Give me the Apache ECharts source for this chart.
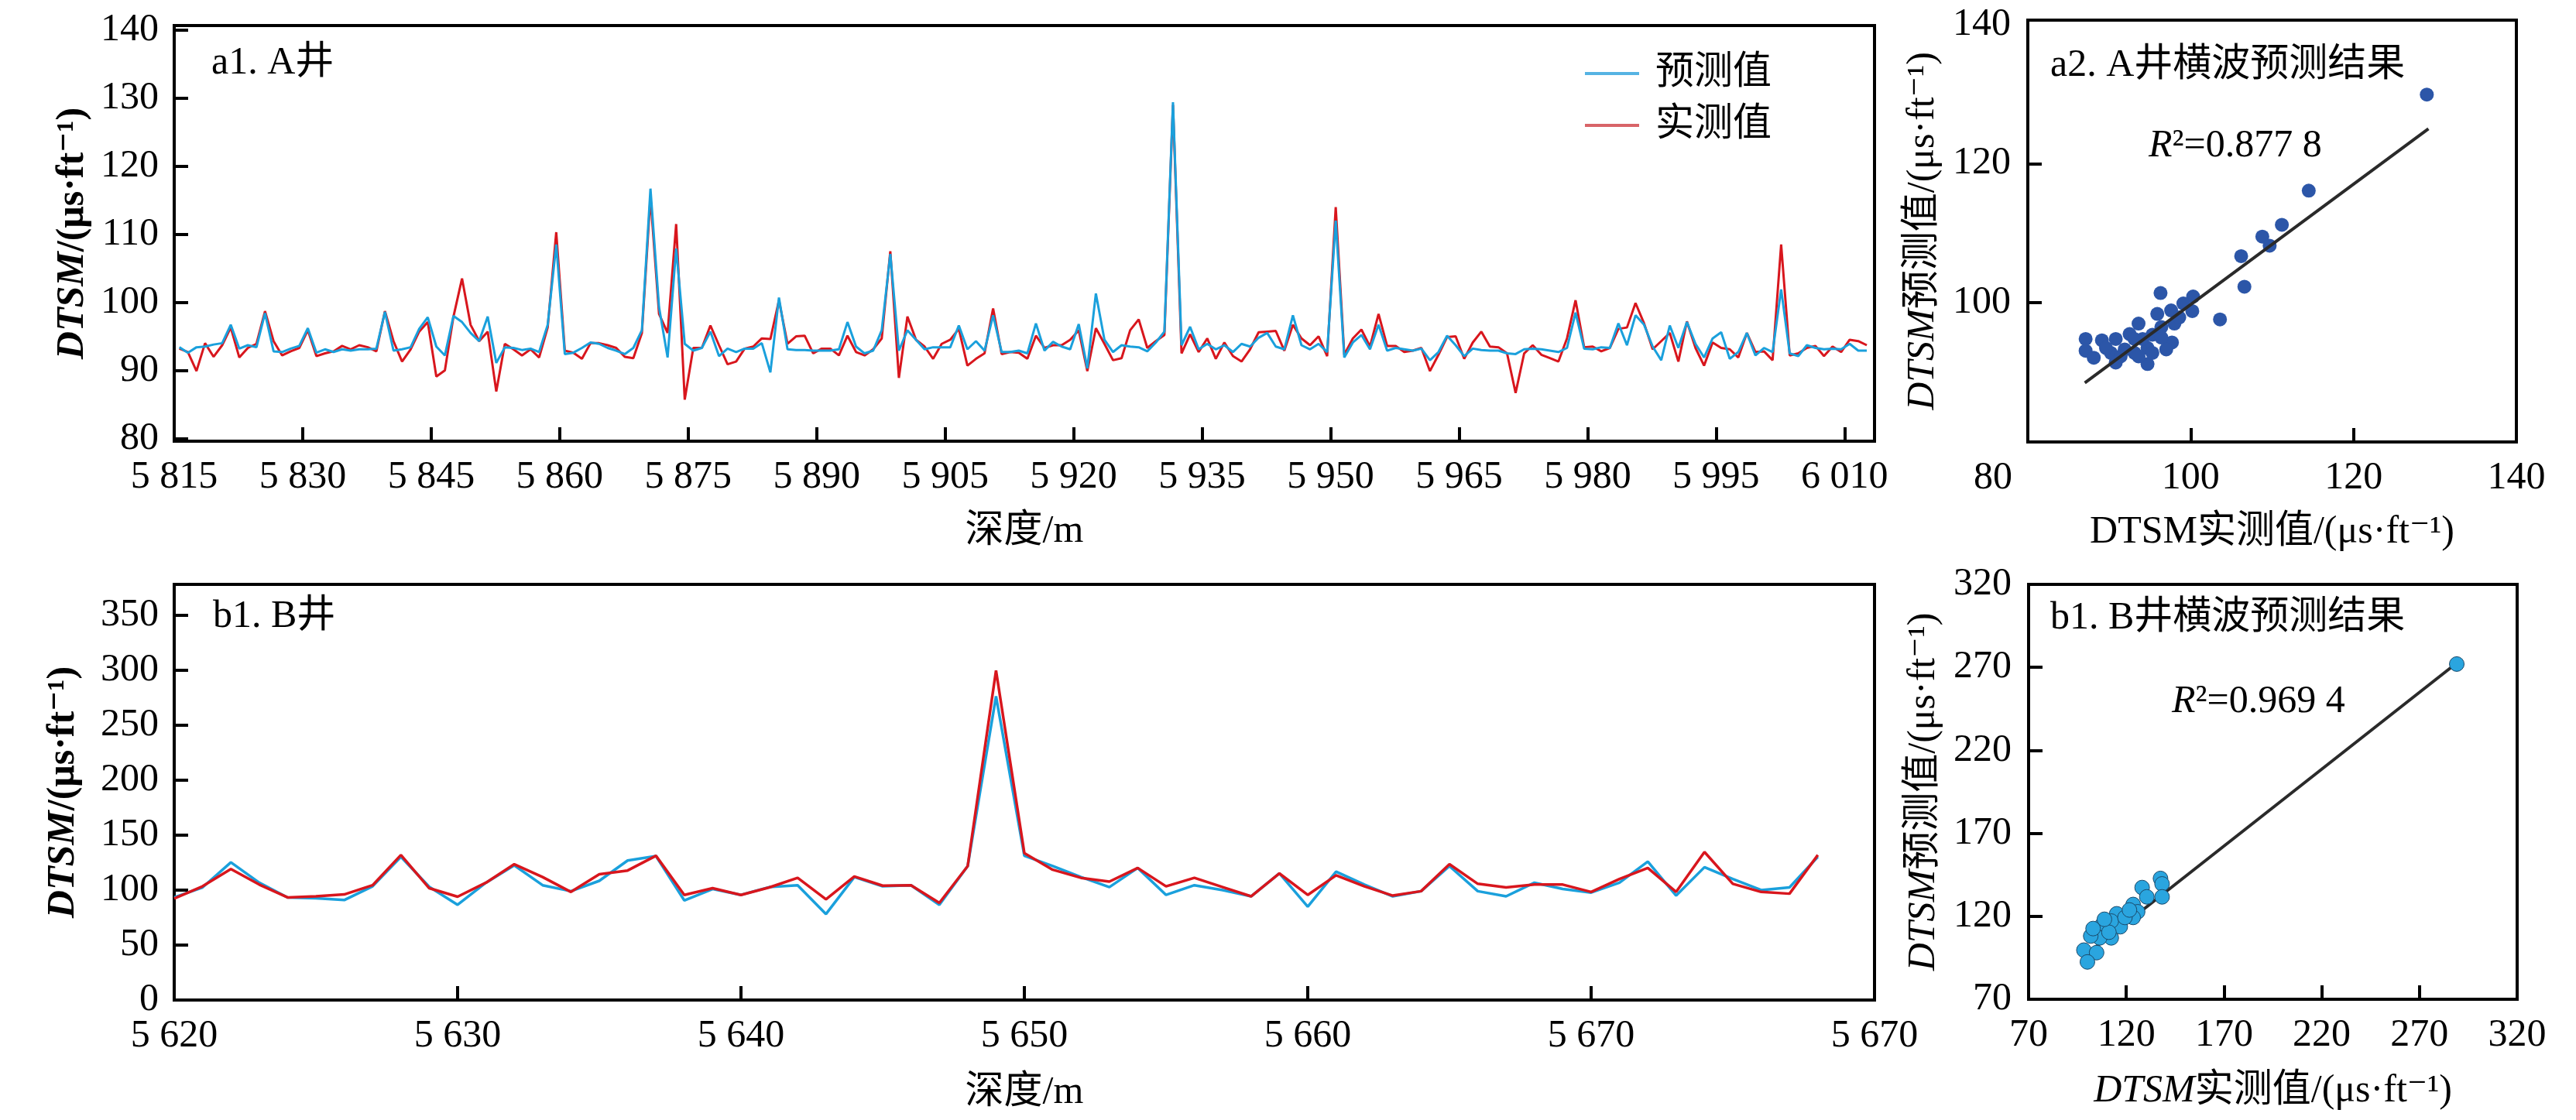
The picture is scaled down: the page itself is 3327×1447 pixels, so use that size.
<!DOCTYPE html>
<html>
<head>
<meta charset="utf-8">
<title>DTSM 横波预测结果</title>
<script src="https://cdn.jsdelivr.net/npm/echarts@6/dist/echarts.min.js"></script>
<style>
  html, body { margin: 0; padding: 0; background: #fff; }
  #chart { width: 3327px; height: 1447px; }
</style>
</head>
<body>
<div id="chart"></div>
<script>
// ---- A井: depth sampled every 1 m from 5815.6 m ----
var A_DEPTH_START = 5815.6;
var A_DEPTH_STEP = 1;
var A_PRED = [
  93.4, 92.6, 93.4, 93.5, 93.8, 94.0, 96.7, 93.2, 93.7, 93.4,
  98.4, 92.8, 92.7, 93.2, 93.6, 96.2, 92.6, 93.1, 92.7, 93.1,
  92.9, 93.1, 93.1, 93.2, 98.6, 92.9, 93.1, 93.4, 96.1, 97.8,
  93.5, 92.2, 98.0, 97.1, 95.5, 94.3, 97.9, 91.1, 93.4, 93.3,
  93.0, 93.2, 92.7, 96.7, 108.5, 92.4, 92.6, 93.3, 94.1, 93.9,
  93.3, 92.9, 92.4, 93.3, 95.9, 116.7, 99.3, 91.9, 107.9, 93.9,
  92.9, 93.3, 95.7, 92.1, 93.2, 92.7, 93.2, 93.2, 94.0, 89.7,
  100.7, 93.1, 93.0, 93.0, 92.9, 92.9, 92.9, 93.1, 97.1, 93.5,
  92.5, 92.9, 95.9, 107.1, 92.9, 95.9, 94.5, 93.1, 93.4, 93.4,
  93.4, 96.6, 93.1, 94.3, 92.9, 98.1, 92.7, 92.7, 92.9, 92.5,
  96.9, 92.9, 94.2, 93.5, 93.1, 96.8, 90.3, 101.3, 94.5, 92.7,
  93.7, 93.5, 93.4, 92.8, 94.1, 95.7, 129.4, 93.7, 96.4, 93.1,
  93.9, 93.1, 93.7, 92.7, 93.9, 93.5, 94.8, 95.5, 93.5, 93.1,
  98.1, 93.7, 93.1, 93.9, 92.7, 112.0, 91.9, 94.1, 95.2, 93.1,
  96.7, 92.9, 93.3, 93.1, 92.9, 93.2, 91.5, 92.7, 95.1, 93.7,
  92.1, 93.2, 93.0, 92.9, 92.9, 92.5, 92.4, 93.1, 93.2, 93.1,
  92.9, 92.7, 93.3, 98.5, 93.2, 93.1, 93.4, 93.3, 96.9, 93.7,
  98.1, 96.7, 93.5, 91.5, 96.6, 93.3, 97.1, 93.9, 91.9, 94.7,
  95.6, 91.7, 92.7, 95.5, 92.2, 93.3, 92.7, 101.9, 92.5, 92.1,
  93.7, 93.3, 93.1, 93.2, 93.1, 93.9, 92.9, 92.9
];
var A_MEAS = [
  93.2, 92.7, 89.9, 94.0, 92.0, 93.7, 96.3, 91.9, 93.3, 93.9,
  98.7, 94.3, 92.2, 92.8, 93.3, 95.9, 92.1, 92.5, 92.8, 93.6,
  93.1, 93.7, 93.4, 92.8, 98.7, 94.3, 91.3, 93.1, 95.7, 97.1,
  89.1, 90.0, 97.9, 103.5, 96.7, 94.3, 95.7, 86.9, 93.9, 93.1,
  92.2, 93.1, 91.9, 96.3, 110.3, 92.9, 92.6, 91.7, 94.0, 94.0,
  93.7, 93.3, 92.0, 91.8, 95.5, 115.5, 98.3, 95.5, 111.5, 85.7,
  93.3, 93.3, 96.6, 93.7, 90.9, 91.3, 93.2, 93.5, 94.7, 94.6,
  100.3, 93.9, 95.0, 95.1, 92.5, 93.2, 93.2, 92.2, 95.1, 92.7,
  92.2, 93.1, 94.7, 107.5, 88.9, 97.9, 94.5, 93.5, 91.7, 93.9,
  94.5, 96.1, 90.7, 91.7, 92.5, 99.1, 92.4, 92.7, 92.6, 91.7,
  95.1, 93.3, 93.7, 93.7, 94.5, 95.9, 89.9, 96.2, 93.9, 91.5,
  91.8, 95.9, 97.5, 93.3, 94.3, 95.2, 129.0, 92.5, 95.3, 92.7,
  94.7, 91.7, 94.1, 92.1, 91.3, 93.1, 95.6, 95.7, 95.8, 92.9,
  96.7, 94.7, 93.7, 95.0, 92.1, 114.0, 92.3, 94.7, 96.0, 93.5,
  98.3, 93.6, 93.6, 92.7, 92.9, 93.3, 89.9, 92.3, 94.9, 95.0,
  91.7, 94.1, 95.7, 93.5, 93.4, 92.5, 86.7, 92.5, 93.7, 92.3,
  91.8, 91.3, 94.7, 100.3, 93.4, 93.5, 92.8, 93.3, 96.1, 96.3,
  99.9, 96.9, 93.1, 94.3, 95.5, 91.3, 97.2, 93.3, 90.7, 94.1,
  93.3, 93.1, 91.9, 95.5, 92.7, 92.8, 91.5, 108.5, 92.2, 92.5,
  93.3, 93.6, 92.1, 93.5, 92.7, 94.5, 94.3, 93.7
];

// ---- B井: depth every 1 m from 5620 m ----
var B_DEPTH_START = 5620;
var B_DEPTH_STEP = 1;
var B_PRED = [
  93.3, 102.4, 125.2, 106.7, 93.3, 92.6, 90.9, 103.4, 130.2, 103.0,
  86.6, 106.7, 122.5, 104.4, 99.0, 108.4, 126.9, 130.9, 90.6, 101.0,
  95.6, 102.7, 104.4, 78.2, 111.8, 103.4, 104.4, 86.6, 121.8, 276.2,
  131.2, 121.8, 111.8, 102.7, 120.1, 95.6, 104.4, 100.0, 94.3, 115.1,
  84.9, 116.8, 105.0, 94.3, 99.0, 121.8, 99.0, 94.3, 106.7, 101.0,
  97.7, 106.7, 125.9, 95.0, 120.8, 110.1, 100.0, 102.4, 130.2
];
var B_MEAS = [
  92.3, 103.4, 119.1, 105.0, 93.3, 94.3, 96.0, 104.4, 131.9, 101.7,
  94.0, 106.7, 123.5, 111.8, 98.3, 114.4, 117.8, 131.2, 95.6, 101.7,
  95.6, 102.4, 111.1, 91.6, 112.4, 104.0, 104.4, 88.3, 121.8, 299.7,
  133.6, 118.5, 111.1, 107.7, 120.1, 103.4, 111.1, 102.7, 94.3, 115.1,
  95.6, 113.4, 103.4, 95.0, 99.0, 123.5, 105.7, 102.4, 105.0, 105.0,
  98.3, 110.1, 120.1, 98.3, 134.6, 105.7, 98.3, 96.7, 131.9
];

// ---- crossplots: [measured, predicted] ----
var A_SCATTER = [
  [129.0, 129.9], [114.5, 116.1], [111.2, 111.2], [108.8, 109.5], [109.7, 108.2],
  [106.2, 106.7], [106.6, 102.3], [103.6, 97.6], [96.3, 101.4], [100.3, 100.9],
  [99.1, 99.9], [100.2, 98.8], [97.6, 98.9], [95.9, 98.4], [98.0, 97.0],
  [93.6, 97.0], [95.3, 95.4], [97.7, 94.3], [94.7, 93.5], [93.1, 92.8],
  [90.8, 94.8], [89.1, 94.6], [87.1, 94.8], [87.1, 93.1], [88.1, 92.1],
  [90.8, 91.4], [94.7, 91.2], [90.2, 92.8], [91.9, 93.3], [94.1, 94.8],
  [96.4, 95.0], [95.3, 92.8], [93.6, 92.3], [92.5, 95.5], [96.4, 96.5],
  [98.6, 97.9], [91.4, 92.3], [89.6, 93.5], [93.1, 94.8], [97.0, 93.3]
];
var A_FIT = [[87.0, 88.5], [129.2, 125.0]];
var A_R2 = '0.877 8';

var B_SCATTER = [
  [289.1, 272.0], [137.5, 142.8], [138.3, 139.5], [138.3, 131.7], [128.1, 137.3],
  [130.5, 131.7], [123.5, 127.1], [125.8, 122.7], [123.5, 119.3], [115.1, 121.5],
  [116.9, 113.7], [112.3, 117.1], [107.6, 114.8], [112.3, 107.0], [106.4, 107.0],
  [101.8, 108.1], [98.3, 99.6], [104.8, 98.1], [100.1, 92.5], [111.1, 110.4],
  [119.3, 119.3], [108.8, 118.2], [103.0, 112.6], [121.6, 123.8]
];
var B_FIT = [[100.5, 98.0], [288.0, 271.6]];
var B_R2 = '0.969 4';

// ---- axis ticks and labels ----
var A1_X_TICKS = [5815, 5830, 5845, 5860, 5875, 5890, 5905, 5920, 5935, 5950, 5965, 5980, 5995, 6010];
var A1_X_LABELS = ['5 815', '5 830', '5 845', '5 860', '5 875', '5 890', '5 905', '5 920', '5 935', '5 950', '5 965', '5 980', '5 995', '6 010'];
var A1_Y_TICKS = [80, 90, 100, 110, 120, 130, 140];
var B1_X_TICKS = [5620, 5630, 5640, 5650, 5660, 5670, 5680];
var B1_X_LABELS = ['5 620', '5 630', '5 640', '5 650', '5 660', '5 670', '5 670'];
var B1_Y_TICKS = [0, 50, 100, 150, 200, 250, 300, 350];
var A2_TICKS = [100, 120];
var A2_X_LABELS = [80, 100, 120, 140];
var A2_Y_LABELS = [100, 120, 140];
var B2_TICKS = [120, 170, 220, 270];
var B2_LABELS = [70, 120, 170, 220, 270, 320];

var SERIF = "'Liberation Serif', 'DejaVu Serif', 'Noto Sans CJK SC', serif";
var BLUE = '#1aa0dc';
var RED = '#d8161d';

function series(start, step, vals) {
  return vals.map(function (v, i) { return [start + i * step, v]; });
}

function labelFrom(ticks, labels) {
  return function (v) {
    var i = ticks.indexOf(v);
    return i >= 0 ? labels[i] : '';
  };
}

function axis(o) {
  return {
    type: 'value',
    gridIndex: o.grid,
    min: o.min,
    max: o.max,
    axisLine: { show: true, onZero: false, lineStyle: { color: '#000', width: 4 } },
    axisTick: { show: true, inside: true, length: 18, customValues: o.ticks, lineStyle: { color: '#000', width: 4 } },
    axisLabel: {
      customValues: o.labels,
      margin: o.margin,
      formatter: o.fmt,
      fontSize: 50,
      fontFamily: SERIF,
      color: '#000',
      rich: o.rich
    },
    splitLine: { show: false },
    name: o.name,
    nameLocation: 'middle',
    nameGap: o.nameGap,
    nameTextStyle: o.nameStyle
  };
}

function nameStyle(bold, size) {
  var w = bold ? 'bold' : 'normal';
  return {
    fontSize: size, fontFamily: SERIF, color: '#000', fontWeight: w,
    rich: {
      i: { fontSize: size, fontFamily: SERIF, color: '#000', fontWeight: w, fontStyle: 'italic' },
      n: { fontSize: size, fontFamily: SERIF, color: '#000', fontWeight: w }
    }
  };
}

var labelStyle = { fontSize: 50, fontFamily: SERIF, color: '#000', fontWeight: 'normal' };
var r2Style = {
  fontSize: 50, fontFamily: SERIF, color: '#000', fontWeight: 'normal',
  rich: { i: { fontSize: 50, fontFamily: SERIF, color: '#000', fontStyle: 'italic' } }
};

var chart = echarts.init(document.getElementById('chart'), null, { renderer: 'canvas' });

var option = {
  animation: false,
  backgroundColor: '#fff',
  title: [
    { text: 'a1. A井', left: 273, top: 57, padding: 0, textStyle: labelStyle },
    { text: 'b1. B井', left: 275, top: 772, padding: 0, textStyle: labelStyle },
    { text: 'a2. A井横波预测结果', left: 2648, top: 60, padding: 0, textStyle: labelStyle },
    { text: 'b1. B井横波预测结果', left: 2648, top: 774, padding: 0, textStyle: labelStyle },
    { text: '{i|R}²=' + A_R2, left: 2775, top: 164, padding: 0, textStyle: r2Style },
    { text: '{i|R}²=' + B_R2, left: 2805, top: 882, padding: 0, textStyle: r2Style }
  ],
  legend: {
    orient: 'vertical',
    left: 2047,
    top: 70,
    itemWidth: 70,
    itemHeight: 4,
    itemGap: 17,
    padding: 0,
    data: [
      { name: '预测值', icon: 'rect', itemStyle: { color: '#56b3e3' } },
      { name: '实测值', icon: 'rect', itemStyle: { color: '#d86468' } }
    ],
    textStyle: { fontSize: 50, fontFamily: SERIF, color: '#000', padding: [0, 0, 0, 16] }
  },
  grid: [
    { left: 225, top: 33, width: 2196, height: 537, show: true, borderColor: '#000', borderWidth: 4 },
    { left: 2619, top: 26, width: 631, height: 545, show: true, borderColor: '#000', borderWidth: 4 },
    { left: 225, top: 755, width: 2196, height: 537, show: true, borderColor: '#000', borderWidth: 4 },
    { left: 2620, top: 755, width: 631, height: 536, show: true, borderColor: '#000', borderWidth: 4 }
  ],
  xAxis: [
    axis({ grid: 0, min: 5815, max: 6013.5, ticks: A1_X_TICKS, labels: A1_X_TICKS, margin: 22,
      fmt: labelFrom(A1_X_TICKS, A1_X_LABELS), name: '深度/m', nameGap: 92, nameStyle: nameStyle(false, 50) }),
    axis({ grid: 1, min: 80, max: 140, ticks: A2_TICKS, labels: A2_X_LABELS, margin: 22,
      fmt: function (v) { return v === 80 ? '{c|80}' : String(v); },
      rich: { c: { fontSize: 50, fontFamily: SERIF, color: '#000', padding: [0, 90, 0, 0] } },
      name: 'DTSM实测值/(μs·ft⁻¹)', nameGap: 92, nameStyle: nameStyle(false, 50) }),
    axis({ grid: 2, min: 5620, max: 5680, ticks: B1_X_TICKS, labels: B1_X_TICKS, margin: 22,
      fmt: labelFrom(B1_X_TICKS, B1_X_LABELS), name: '深度/m', nameGap: 95, nameStyle: nameStyle(false, 50) }),
    axis({ grid: 3, min: 70, max: 320, ticks: B2_TICKS, labels: B2_LABELS, margin: 22,
      fmt: function (v) { return String(v); },
      name: '{i|DTSM}实测值/(μs·ft⁻¹)', nameGap: 94, nameStyle: nameStyle(false, 50) })
  ],
  yAxis: [
    axis({ grid: 0, min: 79.6, max: 140.66, ticks: A1_Y_TICKS, labels: A1_Y_TICKS, margin: 20,
      fmt: function (v) { return String(v); },
      name: '{i|DTSM}/(μs·ft⁻¹)', nameGap: 102, nameStyle: nameStyle(true, 50) }),
    axis({ grid: 1, min: 80, max: 140.6, ticks: A2_TICKS, labels: A2_Y_LABELS, margin: 22,
      fmt: function (v) { return String(v); },
      name: '{i|DTSM}预测值/(μs·ft⁻¹)', nameGap: 110, nameStyle: nameStyle(false, 50) }),
    axis({ grid: 2, min: 0, max: 378, ticks: B1_Y_TICKS, labels: B1_Y_TICKS, margin: 20,
      fmt: function (v) { return String(v); },
      name: '{i|DTSM}/(μs·ft⁻¹)', nameGap: 118, nameStyle: nameStyle(true, 50) }),
    axis({ grid: 3, min: 70, max: 320, ticks: B2_TICKS, labels: B2_LABELS, margin: 22,
      fmt: function (v) { return String(v); },
      name: '{i|DTSM}预测值/(μs·ft⁻¹)', nameGap: 110, nameStyle: nameStyle(false, 50) })
  ],
  series: [
    {
      name: '实测值', type: 'line', xAxisIndex: 0, yAxisIndex: 0, symbol: 'none', z: 2,
      lineStyle: { color: RED, width: 3 }, itemStyle: { color: RED },
      data: series(A_DEPTH_START, A_DEPTH_STEP, A_MEAS)
    },
    {
      name: '预测值', type: 'line', xAxisIndex: 0, yAxisIndex: 0, symbol: 'none', z: 3,
      lineStyle: { color: BLUE, width: 3 }, itemStyle: { color: BLUE },
      data: series(A_DEPTH_START, A_DEPTH_STEP, A_PRED)
    },
    {
      name: 'B预测值', type: 'line', xAxisIndex: 2, yAxisIndex: 2, symbol: 'none', z: 2,
      lineStyle: { color: BLUE, width: 3.5 }, itemStyle: { color: BLUE },
      data: series(B_DEPTH_START, B_DEPTH_STEP, B_PRED)
    },
    {
      name: 'B实测值', type: 'line', xAxisIndex: 2, yAxisIndex: 2, symbol: 'none', z: 3,
      lineStyle: { color: RED, width: 3.5 }, itemStyle: { color: RED },
      data: series(B_DEPTH_START, B_DEPTH_STEP, B_MEAS)
    },
    {
      name: 'A散点', type: 'scatter', xAxisIndex: 1, yAxisIndex: 1, symbolSize: 18, z: 2,
      itemStyle: { color: '#2c56a8', opacity: 1 },
      data: A_SCATTER
    },
    {
      name: 'A拟合', type: 'line', xAxisIndex: 1, yAxisIndex: 1, symbol: 'none', z: 3,
      lineStyle: { color: '#2a2a2a', width: 4 },
      data: A_FIT
    },
    {
      name: 'B拟合', type: 'line', xAxisIndex: 3, yAxisIndex: 3, symbol: 'none', z: 2,
      lineStyle: { color: '#2a2a2a', width: 4 },
      data: B_FIT
    },
    {
      name: 'B散点', type: 'scatter', xAxisIndex: 3, yAxisIndex: 3, symbolSize: 19, z: 3,
      itemStyle: { color: '#2aa5df', borderColor: '#1b4a6b', borderWidth: 1, opacity: 1 },
      data: B_SCATTER
    }
  ]
};

chart.setOption(option);
</script>
</body>
</html>
